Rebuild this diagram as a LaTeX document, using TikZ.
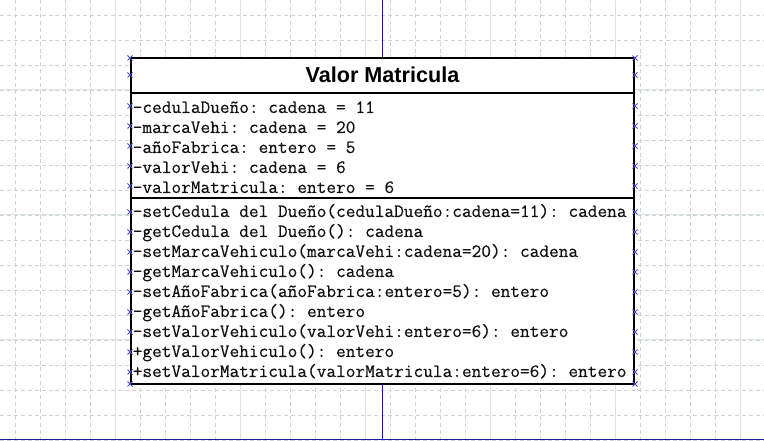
\documentclass[tikz,border=0pt]{standalone}
\usepackage{fontspec}
\usetikzlibrary{positioning,calc}
\newfontfamily\umlsans{Liberation Sans}
\newfontfamily\umlmono{Latin Modern Mono}[FakeBold=0.35]
\definecolor{GridMinor}{HTML}{CDD3D6}
\definecolor{GridMajor}{HTML}{DCE3E3}
\definecolor{Link}{HTML}{1C1C9A}
\definecolor{Handle}{HTML}{4B4BC8}
\definecolor{Ink}{HTML}{111111}

\begin{document}
\begin{tikzpicture}[x=0.75pt,y=-0.75pt,
  minorline/.style={GridMinor,line width=0.6pt,dash pattern=on 3pt off 2.2pt},
  majorline/.style={GridMajor,line width=0.75pt},
  classbox/.style={draw=black,fill=white,line width=1.5pt,inner sep=0pt},
  sepline/.style={black,line width=1.5pt},
  link/.style={Link,line width=0.8pt},
  handle/.style={Handle,line width=0.6pt},
  member/.style={anchor=base west,inner sep=0pt,text=Ink,font=\umlmono\frenchspacing\fontsize{14.1}{16}\selectfont},
  classname/.style={anchor=base,inner sep=0pt,text=black,font=\umlsans\bfseries\fontsize{16.2}{19}\selectfont}]
\useasboundingbox[fill=white] (0,0) rectangle (764,441);
% background grid
\foreach \gx in {15,40,...,740} \draw[minorline] (\gx,0) -- (\gx,441);
\foreach \gy in {15,40,...,440} \draw[minorline] (0,\gy) -- (764,\gy);
\foreach \gx in {115,240,...,740} \draw[majorline] (\gx,0) -- (\gx,441);
\foreach \gy in {90,215,340} \draw[majorline] (0,\gy) -- (764,\gy);

% links
\coordinate (topEnd) at (382.5,0);
\coordinate (busLeft) at (0,439.6);
\coordinate (busRight) at (764,439.6);
\draw[link] (busLeft) -- (busRight);

% class box
\node[classbox,minimum width=377.25pt,minimum height=244.5pt] (cls) at (382.5,221) {};
\draw[link] (topEnd) -- (cls.north);
\draw[link] (cls.south) -- (cls.south |- busLeft);
\draw[sepline] (cls.west |- 0,93) -- (cls.east |- 0,93);
\draw[sepline] (cls.west |- 0,198) -- (cls.east |- 0,198);

\node[classname] (title) at (382.5,83) {Valor Matricula};

\node[member] (attr1) at (132.5,113) {-cedulaDueño: cadena = 11};
\node[member] (attr2) at (132.5,133) {-marcaVehi: cadena = 20};
\node[member] (attr3) at (132.5,153) {-añoFabrica: entero = 5};
\node[member] (attr4) at (132.5,173) {-valorVehi: cadena = 6};
\node[member] (attr5) at (132.5,193) {-valorMatricula: entero = 6};

\node[member] (op1) at (132.5,217) {-setCedula del Dueño(cedulaDueño:cadena=11): cadena};
\node[member] (op2) at (132.5,237) {-getCedula del Dueño(): cadena};
\node[member] (op3) at (132.5,257) {-setMarcaVehiculo(marcaVehi:cadena=20): cadena};
\node[member] (op4) at (132.5,277) {-getMarcaVehiculo(): cadena};
\node[member] (op5) at (132.5,297) {-setAñoFabrica(añoFabrica:entero=5): entero};
\node[member] (op6) at (132.5,317) {-getAñoFabrica(): entero};
\node[member] (op7) at (132.5,337) {-setValorVehiculo(valorVehi:entero=6): entero};
\node[member] (op8) at (132.5,357) {+getValorVehiculo(): entero};
\node[member] (op9) at (132.5,377) {+setValorMatricula(valorMatricula:entero=6): entero};

% selection handles
\foreach \hy in {58,75,106,126,146,166,186,212,232,252,272,292,312,332,352,372,384}{
  \draw[handle] ($(cls.west |- 0,\hy)+(-2.5,-2.5)$) -- +(5,5) +(0,5) -- +(5,0);
  \draw[handle] ($(cls.east |- 0,\hy)+(-2.5,-2.5)$) -- +(5,5) +(0,5) -- +(5,0);
}
\end{tikzpicture}
\end{document}
